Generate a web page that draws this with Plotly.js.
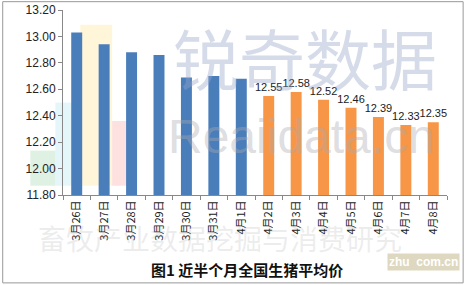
<!DOCTYPE html>
<html><head><meta charset="utf-8">
<script src="https://cdn.plot.ly/plotly-3.0.1.min.js"></script>
<style>body{margin:0;background:#fff}#c{width:465px;height:285px}</style>
</head><body><div id="c"></div>
<script>
const categories = ['3月26日','3月27日','3月28日','3月29日','3月30日','3月31日','4月1日','4月2日','4月3日','4月4日','4月5日','4月6日','4月7日','4月8日'];
const pastValues = [13.03,12.94,12.88,12.86,12.69,12.70,12.68,null,null,null,null,null,null,null];
const recentValues = [null,null,null,null,null,null,null,12.55,12.58,12.52,12.46,12.39,12.33,12.35];
const yTicks = [11.8,12.0,12.2,12.4,12.6,12.8,13.0,13.2];
const titleText = '图1 近半个月全国生猪平均价';

const traces = [
  {type:'bar', x:categories, y:pastValues, marker:{color:'#4a7ebb'}, hoverinfo:'none'},
  {type:'bar', x:categories, y:recentValues, marker:{color:'#f79646'},
   text:recentValues.map(v=>v==null?'':v.toFixed(2)), textposition:'outside', constraintext:'none',
   textfont:{family:'Liberation Sans, Arial', size:11, color:'#222'}, cliponaxis:false, hoverinfo:'none'}
];
const layout = {
  width:465, height:285, margin:{l:63,r:18,t:10,b:90},
  paper_bgcolor:'#fff', plot_bgcolor:'rgba(0,0,0,0)',
  barmode:'overlay', bargap:0.6, showlegend:false,
  font:{family:'Liberation Sans, Arial', color:'#222'},
  xaxis:{type:'category', tickangle:-90, tickfont:{size:11, family:'Noto Sans CJK SC'},
    showline:true, linecolor:'#888', ticks:'outside', ticklen:4, tickcolor:'#888', showgrid:false,
    tickson:'boundaries'},
  yaxis:{range:[11.8,13.2], tickvals:yTicks, ticktext:yTicks.map(v=>v.toFixed(2)),
    tickfont:{size:12}, showline:true, linecolor:'#888', ticks:'outside', ticklen:4, tickcolor:'#888',
    showgrid:false, zeroline:false},
  shapes:[
    {type:'rect', xref:'paper', yref:'paper', x0:-0.157, x1:1.042, y0:-0.475, y1:1.045, line:{color:'#999', width:1}, fillcolor:'rgba(0,0,0,0)'},
    {type:'rect', xref:'paper', yref:'paper', x0:-0.085, x1:-0.02, y0:0.05, y1:0.24, fillcolor:'rgba(150,210,160,0.3)', line:{width:0}, layer:'below'},
    {type:'rect', xref:'paper', yref:'paper', x0:-0.02, x1:0.03, y0:0.05, y1:0.5, fillcolor:'rgba(170,225,240,0.3)', line:{width:0}, layer:'below'},
    {type:'rect', xref:'paper', yref:'paper', x0:0.045, x1:0.128, y0:0.05, y1:0.92, fillcolor:'rgba(255,230,150,0.35)', line:{width:0}, layer:'below'},
    {type:'rect', xref:'paper', yref:'paper', x0:0.128, x1:0.175, y0:0.05, y1:0.4, fillcolor:'rgba(250,170,170,0.35)', line:{width:0}, layer:'below'}
  ],
  annotations:[
    {text:'锐奇数据', xref:'paper', yref:'paper', x:0.63, y:1.02, showarrow:false, font:{size:66, color:'rgba(150,165,200,0.4)', family:'Noto Sans CJK SC'}},
    {text:'Reaiidata.cn', xref:'paper', yref:'paper', x:0.62, y:0.16, showarrow:false, font:{size:48, color:'rgba(170,170,175,0.4)', family:'Liberation Sans'}},
    {text:'畜牧产业数据挖掘与消费研究', xref:'paper', yref:'paper', x:0.41, y:-0.35, showarrow:false, font:{size:28, color:'rgba(170,170,170,0.22)', family:'Noto Sans CJK SC'}},
    {text:'<b>'+titleText+'</b>', xref:'paper', yref:'paper', x:0.48, y:-0.405, xanchor:'center', yanchor:'middle', showarrow:false, font:{size:15, color:'#111', family:'Noto Sans CJK SC'}},
    {text:'<b>zhu  com.cn</b>', xref:'paper', yref:'paper', x:1.035, y:-0.41, xanchor:'right', showarrow:false, bgcolor:'rgba(200,190,150,0.6)', font:{size:12, color:'#fff'}}
  ]
};
Plotly.newPlot('c', traces, layout, {displayModeBar:false, staticPlot:true});
</script></body></html>
